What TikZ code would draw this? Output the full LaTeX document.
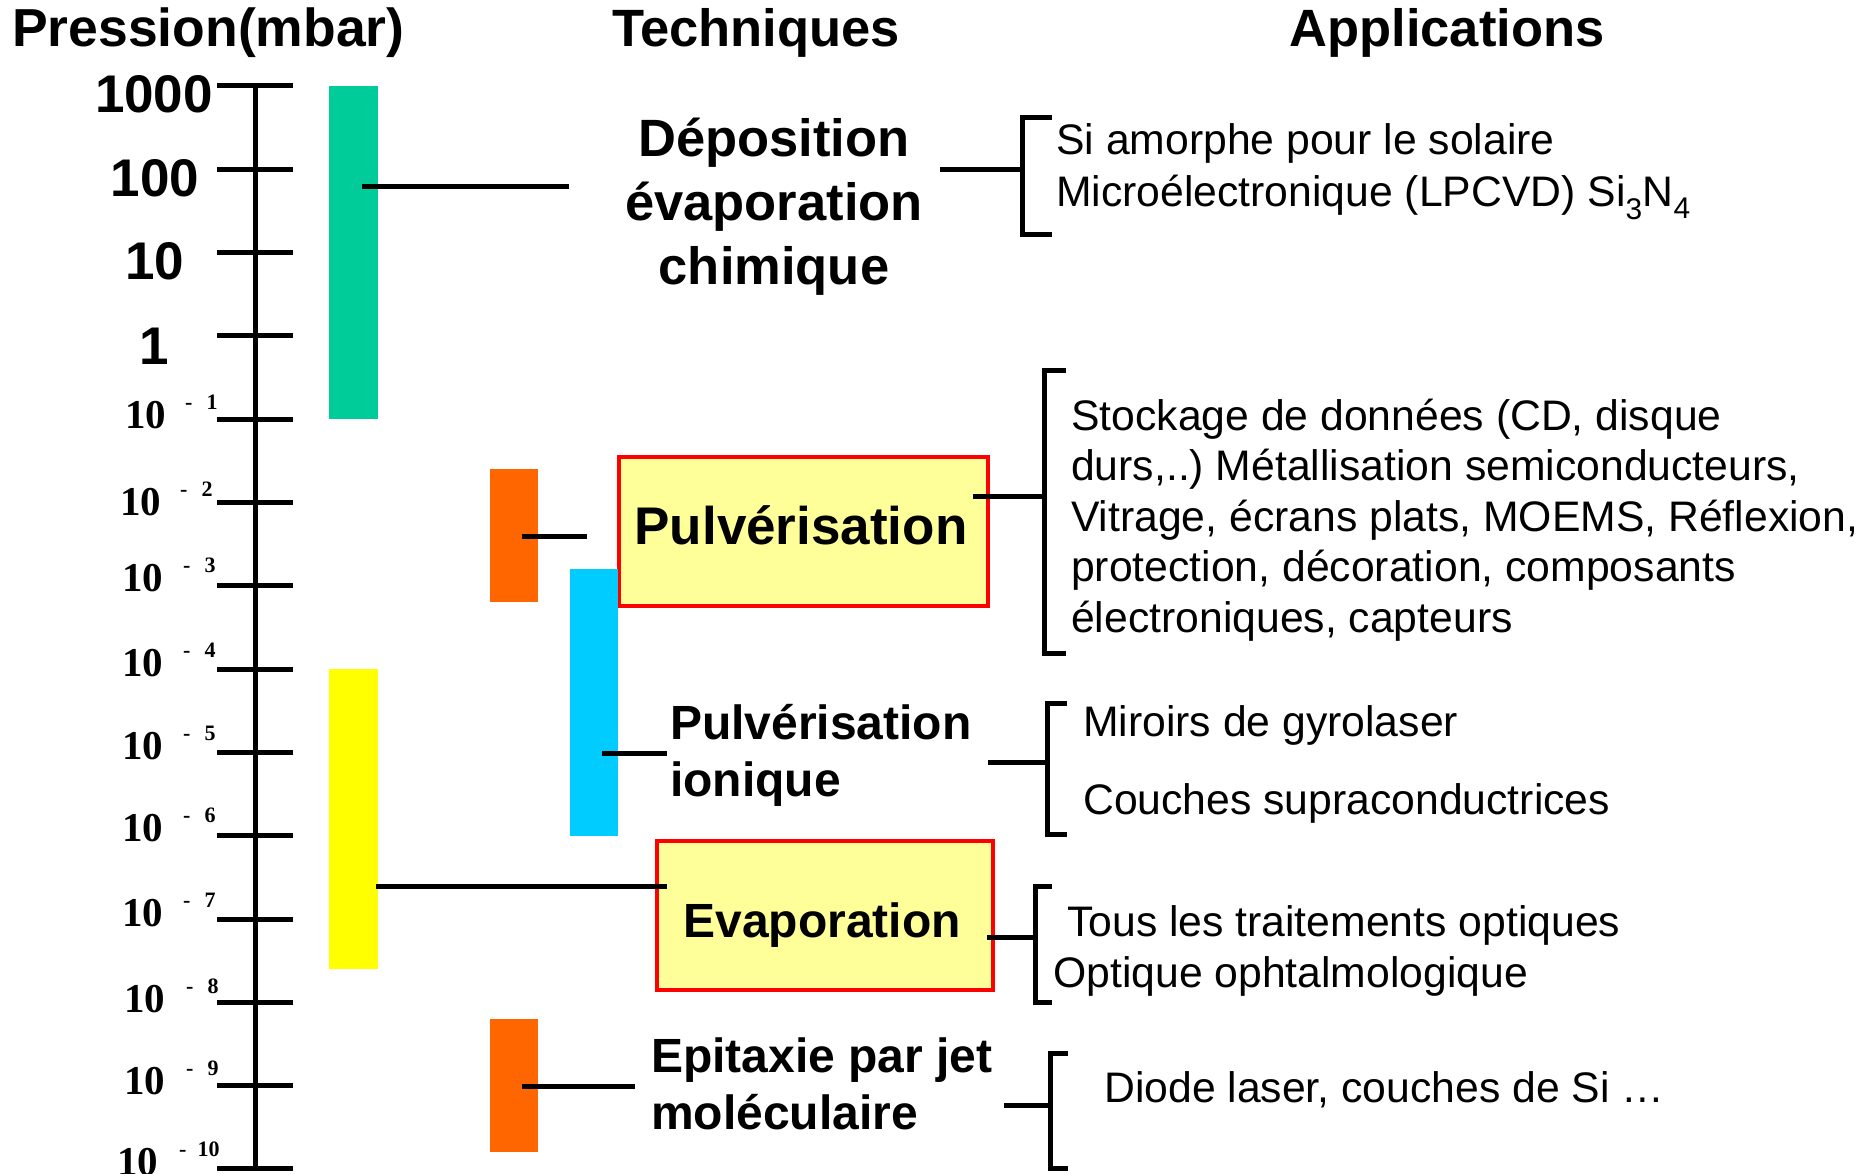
\documentclass[tikz,border=0pt]{standalone}
\usepackage{fontspec}
\setmainfont{Liberation Sans}
\newfontfamily\tnr{Liberation Serif}
\definecolor{cgreen}{RGB}{0,204,153}
\definecolor{corange}{RGB}{255,102,0}
\definecolor{ccyan}{RGB}{0,204,255}
\definecolor{cyellow}{RGB}{255,255,0}
\definecolor{cbox}{RGB}{255,255,153}
\definecolor{cred}{RGB}{255,0,0}
\frenchspacing
\tikzset{
  ln/.style={line width=5pt, line cap=butt},
  brk/.style={line width=5pt, line join=miter, line cap=butt},
  bar/.style={rectangle, inner sep=0pt, outer sep=0pt, draw=none},
  techbox/.style={rectangle, inner sep=0pt, outer sep=0pt, draw=cred, line width=4pt, fill=cbox},
  hdr/.style={font=\fontsize{52.5}{60}\selectfont\bfseries, inner sep=0pt, anchor=base},
  biglab/.style={font=\fontsize{53}{60}\selectfont\bfseries, inner sep=0pt, anchor=base},
  explab/.style={font=\tnr\fontsize{41}{48}\selectfont\bfseries, inner sep=0pt, anchor=base west},
  suplab/.style={font=\tnr\fontsize{22}{26}\selectfont\bfseries, inner sep=0pt, anchor=base west},
  techA/.style={font=\fontsize{52.5}{60}\selectfont\bfseries, inner sep=0pt, anchor=base},
  techB/.style={font=\fontsize{48}{56}\selectfont\bfseries, inner sep=0pt},
  app/.style={font=\fontsize{42.7}{50}\selectfont\frenchspacing, inner sep=0pt, anchor=base west}
}
\begin{document}
\begin{tikzpicture}[x=1pt,y=-1pt]
\useasboundingbox (0,0) rectangle (1874,1174);
\fill[white] (0,0) rectangle (1874,1174);

% headers
\node[hdr, font=\fontsize{53.5}{60}\selectfont\bfseries, anchor=base west] (hP) at (12,47) {Pression(mbar)};
\node[hdr] (hT) at (756,47) {Techniques};
\node[hdr] (hA) at (1447,47) {Applications};

% axis
\coordinate (atop) at (255,86);
\coordinate (abot) at (255,1169);
\draw[ln] (atop) -- (abot);
\foreach \k in {0,...,13}{
  \coordinate (tl\k) at (217,{86+83.3*\k});
  \coordinate (tr\k) at (293,{86+83.3*\k});
  \draw[ln] (tl\k) -- (tr\k);
}
\node[biglab] (l1000) at (154,113) {1000};
\node[biglab] (l100) at (155,197) {100};
\node[biglab] (l10) at (155,280) {10};
\node[biglab] (l1) at (154,364) {1};
\foreach \k/\mx/\dy/\hx in {1/125/9/185, 2/120/13/180, 3/122/6/183, 4/122/7/183, 5/122/7/183, 6/122/6/183, 7/122/7/183, 8/124/10/186, 9/124/9/186}{
  \node[explab] (e\k) at (\mx,{86+83.3*(\k+3)+\dy}) {10};
  \node[suplab] (s\k) at (\hx,{86+83.3*(\k+3)+\dy-19}) {-\hspace{14pt}\k};
}
\node[explab] (e10) at (117,1175) {10};
\node[suplab] (s10) at (179,1156) {-\hspace{11pt}10};

% technique boxes
\node[techbox, minimum width=369pt, minimum height=149pt] (pbox) at (803.5,531.5) {};
\node[techbox, minimum width=336pt, minimum height=149pt] (ebox) at (825,915.5) {};

% bars
\node[bar, fill=cgreen, minimum width=49pt, minimum height=333pt] (green) at (353.5,252.5) {};
\node[bar, fill=corange, minimum width=48pt, minimum height=133pt] (orange1) at (514,535.5) {};
\node[bar, fill=ccyan, minimum width=48pt, minimum height=267pt] (cyan) at (594,702.5) {};
\node[bar, fill=cyellow, minimum width=49pt, minimum height=300pt] (yellow) at (353.5,819) {};
\node[bar, fill=corange, minimum width=48pt, minimum height=133pt] (orange2) at (514,1085.5) {};

% technique texts
\node[techA] (dep1) at (774,157) {Déposition};
\node[techA] (dep2) at (774,221) {évaporation};
\node[techA] (dep3) at (774,285) {chimique};
\node[techB, font=\fontsize{53}{60}\selectfont\bfseries, anchor=base] (ptxt) at (801,544) {Pulvérisation};
\node[techB, anchor=base west] (ion1) at (670,739) {Pulvérisation};
\node[techB, anchor=base west] (ion2) at (670,796) {ionique};
\node[techB, anchor=base] (etxt) at (822,937) {Evaporation};
\node[techB, anchor=base west] (epi1) at (651,1072) {Epitaxie par jet};
\node[techB, anchor=base west] (epi2) at (651,1129) {moléculaire};

% bar -> technique connectors
\coordinate (g0) at (362,187);   \coordinate (g1) at (569,187);
\coordinate (o0) at (522,536);   \coordinate (o1) at (587,536);
\coordinate (c0) at (602,753);   \coordinate (c1) at (667,753);
\coordinate (y0) at (376,886);   \coordinate (y1) at (667,886);
\coordinate (q0) at (522,1086);  \coordinate (q1) at (635,1086);
\draw[ln] (g0) -- (g1);
\draw[ln] (o0) -- (o1);
\draw[ln] (c0) -- (c1);
\draw[ln] (y0) -- (y1);
\draw[ln] (q0) -- (q1);

% brackets
\coordinate (B1) at (1022,170);
\coordinate (B2) at (1044,496);
\coordinate (B3) at (1047,762);
\coordinate (B4) at (1035,937);
\coordinate (B5) at (1050,1105);
\draw[brk] (1052,118) -| (1022,235) -- (1052,235);
\draw[brk] (1066,370) -| (1044,653) -- (1066,653);
\draw[brk] (1067,703) -| (1047,834) -- (1067,834);
\draw[brk] (1052,886) -| (1035,1002) -- (1052,1002);
\draw[brk] (1068,1053) -| (1050,1168) -- (1068,1168);

% technique -> bracket connectors
\coordinate (d0) at (940,170);
\coordinate (p0) at (973,496);
\coordinate (i0) at (988,762);
\coordinate (v0) at (987,937);
\coordinate (m0) at (1004,1105);
\draw[ln] (d0) -- (B1);
\draw[ln] (p0) -- (B2);
\draw[ln] (i0) -- (B3);
\draw[ln] (v0) -- (B4);
\draw[ln] (m0) -- (B5);

% applications
\node[app] (a11) at (1056,155) {Si amorphe pour le solaire};
\node[app] (a12) at (1056,207) {Microélectronique (LPCVD) Si\textsubscript{3}N\textsubscript{4}};
\node[app] (a21) at (1071,430) {Stockage de données (CD, disque};
\node[app] (a22) at (1071,480) {durs,..) Métallisation semiconducteurs,};
\node[app] (a23) at (1071,531) {Vitrage, écrans plats, MOEMS, Réflexion,};
\node[app] (a24) at (1071,581) {protection, décoration, composants};
\node[app] (a25) at (1071,632) {électroniques, capteurs};
\node[app] (a31) at (1083,736) {Miroirs de gyrolaser};
\node[app] (a32) at (1083,814) {Couches supraconductrices};
\node[app] (a41) at (1067,936) {Tous les traitements optiques};
\node[app] (a42) at (1053,987) {Optique ophtalmologique};
\node[app] (a51) at (1104,1102) {Diode laser, couches de Si …};
\end{tikzpicture}
\end{document}
